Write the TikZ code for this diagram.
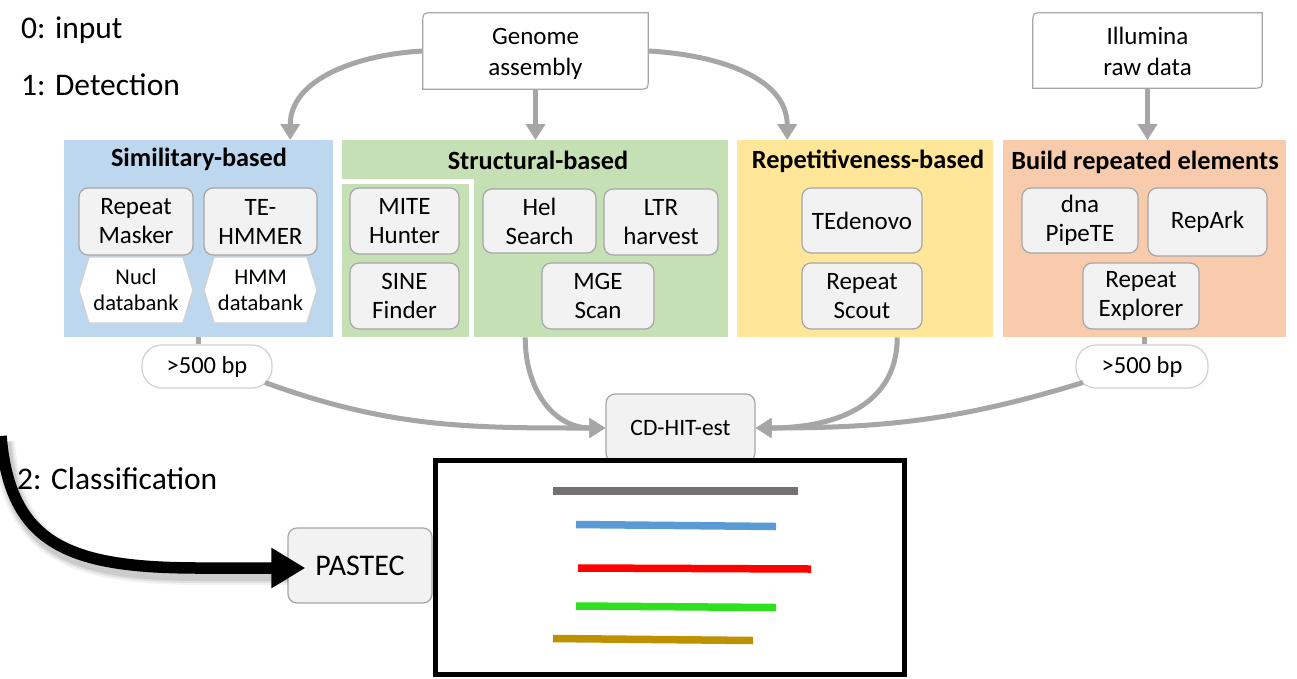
\documentclass[tikz,border=0pt]{standalone}
\usepackage{fontspec}
\setmainfont{Carlito}
\usetikzlibrary{arrows.meta,shapes.symbols}
\definecolor{simblue}{HTML}{BDD7EE}
\definecolor{strgreen}{HTML}{C5E0B4}
\definecolor{repyellow}{HTML}{FFE699}
\definecolor{bldorange}{HTML}{F8CBAD}
\definecolor{toolfill}{HTML}{F2F2F2}
\definecolor{toolline}{HTML}{A6A6A6}
\definecolor{flowgray}{HTML}{A6A6A6}
\definecolor{pillline}{HTML}{D0D0D0}
\definecolor{seqgray}{HTML}{767171}
\definecolor{seqblue}{HTML}{5B9BD5}
\definecolor{seqred}{HTML}{FF0000}
\definecolor{seqgreen}{HTML}{2EE01E}
\definecolor{seqgold}{HTML}{BF9000}
\begin{document}
\begin{tikzpicture}[x=1pt,y=-1pt,
  panel/.style={rectangle, inner sep=0pt, anchor=north west, minimum height=197pt},
  paneltitle/.style={inner sep=0pt, font=\fontsize{26.3}{31}\selectfont\bfseries},
  tool/.style={rectangle, draw=toolline, fill=toolfill, line width=1.2pt, rounded corners=9pt,
    inner sep=0pt, align=center, font=\fontsize{25}{29}\selectfont},
  dbank/.style={shape=signal, signal to=west and east, signal pointer angle=146,
    draw=pillline, fill=white, line width=1.2pt, inner sep=0pt, align=center,
    font=\fontsize{22.5}{26}\selectfont},
  inbox/.style={rectangle, inner sep=0pt, align=center, font=\fontsize{25}{31}\selectfont},
  inline/.style={draw=toolline, fill=white, line width=1.2pt},
  pill/.style={rectangle, draw=pillline, fill=white, line width=1.2pt, rounded corners=20pt,
    inner sep=0pt, font=\fontsize{24.5}{29}\selectfont},
  steplabel/.style={inner sep=0pt, anchor=west, font=\fontsize{31.5}{36}\selectfont},
  flow/.style={draw=flowgray, line width=5pt, -{Triangle[width=19pt,length=16pt]}},
  flowplain/.style={draw=flowgray, line width=5pt},
  seq/.style={line width=7.5pt}
]
\useasboundingbox (0,0) rectangle (1297,678);
\fill[white] (0,0) rectangle (1297,678);

% step labels
\node[steplabel] (lab0) at (21,30) {0: input};
\node[steplabel] (lab1) at (21,85) {1: Detection};
\node[steplabel] (lab2) at (17,479) {2: Classification};

% inputs
\node[inbox, minimum width=225pt, minimum height=76pt] (genome) at (535.5,51) {};
\draw[inline] ([yshift=-10pt]genome.north west) .. controls (genome.north west) .. ([xshift=10pt]genome.north west)
  -- (genome.north east) -- ([yshift=10pt]genome.south east) .. controls (genome.south east) .. ([xshift=-10pt]genome.south east)
  -- (genome.south west) -- cycle;
\node[inbox] at ([yshift=-3pt]genome.center) {Genome\\assembly};

\node[inbox, minimum width=229pt, minimum height=75pt] (illum) at (1147.5,50.5) {};
\draw[inline] ([yshift=-10pt]illum.north west) .. controls (illum.north west) .. ([xshift=10pt]illum.north west)
  -- (illum.north east) -- ([yshift=10pt]illum.south east) .. controls (illum.south east) .. ([xshift=-10pt]illum.south east)
  -- (illum.south west) -- cycle;
\node[inbox] at ([yshift=-1pt]illum.center) {Illumina\\raw data};

% detection panels
\node[panel, fill=simblue, minimum width=269pt] (sim) at (64,140) {};
\node[panel, fill=strgreen, minimum width=386pt] (str) at (342,140) {};
\node[panel, fill=repyellow, minimum width=256pt] (rep) at (737,140) {};
\node[panel, fill=bldorange, minimum width=283pt] (bld) at (1003,140) {};
\draw[white, line width=5pt] (342,181.5) -- (471,181.5) -- (471,337);

\node[paneltitle] (tsim) at (199,159) {Similitary-based};
\node[paneltitle] (tstr) at (538,160) {Structural-based};
\node[paneltitle] (trep) at (868,161) {Repetitiveness-based};
\node[paneltitle] (tbld) at (1145,162) {Build repeated elements};

% similarity-based tools and their databanks
\node[dbank, minimum width=114pt, minimum height=66pt] (nucl) at (136,290) {Nucl\\databank};
\node[dbank, minimum width=113pt, minimum height=66pt] (hmmdb) at (260.5,290) {HMM\\databank};
\node[tool, minimum width=114pt, minimum height=67pt] (rmask) at (136,221.5) {Repeat\\Masker};
\node[tool, minimum width=113pt, minimum height=67pt] (tehmm) at (260.5,221.5) {TE-\\HMMER};

% structural-based tools
\node[tool, minimum width=109pt, minimum height=66pt] (mite) at (404.5,221) {MITE\\Hunter};
\node[tool, minimum width=109pt, minimum height=66pt] (sine) at (404.5,296) {SINE\\Finder};
\node[tool, minimum width=113pt, minimum height=64pt] (hel) at (539.5,221) {Hel\\Search};
\node[tool, minimum width=114pt, minimum height=66pt] (ltr) at (661,222) {LTR\\harvest};
\node[tool, minimum width=112pt, minimum height=66pt] (mge) at (598,296) {MGE\\Scan};

% repetitiveness-based tools
\node[tool, minimum width=120pt, minimum height=65pt] (tedn) at (862,220.5) {TEdenovo};
\node[tool, minimum width=120pt, minimum height=66pt] (rscout) at (862,296) {Repeat\\Scout};

% repeated element builders
\node[tool, minimum width=116pt, minimum height=65pt] (dnap) at (1080,220.5) {dna\\PipeTE};
\node[tool, minimum width=119pt, minimum height=68pt] (repark) at (1207.5,222) {RepArk};
\node[tool, minimum width=116pt, minimum height=66pt] (rexpl) at (1141,296) {Repeat\\Explorer};

% length filters and clustering
\node[pill, minimum width=130pt, minimum height=43pt] (bp1) at (207,366.5) {>500 bp};
\node[pill, minimum width=132pt, minimum height=43pt] (bp2) at (1142,366.5) {>500 bp};
\node[tool, minimum width=149pt, minimum height=68pt, font=\fontsize{23.5}{28}\selectfont] (cdhit) at (680.5,428) {CD-HIT-est};

% flow from inputs into the panels
\draw[flow] (genome.west) to[out=183,in=90] ([xshift=91.5pt]sim.north);
\draw[flow] (genome.south) -- (genome.south |- str.north);
\draw[flow] (genome.east) to[out=-3,in=90] ([xshift=-78pt]rep.north);
\draw[flow] (illum.south) -- (illum.south |- bld.north);

% flow from the panels to CD-HIT-est
\draw[flowplain] (sim.south) -- (sim.south |- bp1.north);
\draw[flowplain] (bld.south) -- (bld.south |- bp2.north);
\draw[flow] ([shift={(58pt,-16pt)}]bp1.center) to[out=-20,in=180] (cdhit.west);
\draw[flow] ([xshift=-10pt]str.south) to[out=-90,in=180,looseness=1.1] (cdhit.west);
\draw[flow] ([xshift=32pt]rep.south) to[out=-90,in=0,looseness=1.1] (cdhit.east);
\draw[flow] ([shift={(-59pt,-16pt)}]bp2.center) to[out=197,in=0] (cdhit.east);

% classification
\node[tool, minimum width=144pt, minimum height=75pt, font=\fontsize{30}{34}\selectfont] (pastec) at (360,565.5) {PASTEC};
\node[rectangle, draw=black, line width=5pt, inner sep=0pt, minimum width=469pt, minimum height=214pt] (res) at (669.5,567) {};
\draw[seq, seqgray]  (553,491) -- (798,491);
\draw[seq, seqblue]  (576,524.5) -- (776,526.5);
\draw[seq, seqred]   (578,568) -- (811,569);
\draw[seq, seqgreen] (576,606) -- (776,607.5);
\draw[seq, seqgold]  (553,638.5) -- (753,640.5);

\coordinate (cstart) at (1,436);
\foreach \w/\o in {22/0.05,18/0.07,14/0.09}{
  \draw[black, opacity=\o, line width=\w pt, transform canvas={shift={(3pt,-6pt)}}]
    (cstart) .. controls (10,545) and (70,568) .. (200,568) -- (285,568);
}
\draw[black, line width=11.5pt, -{Triangle[width=38pt,length=34pt]}]
  (cstart) .. controls (10,545) and (70,568) .. (200,568) -- ([xshift=18pt]pastec.west |- 0,568);
\end{tikzpicture}
\end{document}
